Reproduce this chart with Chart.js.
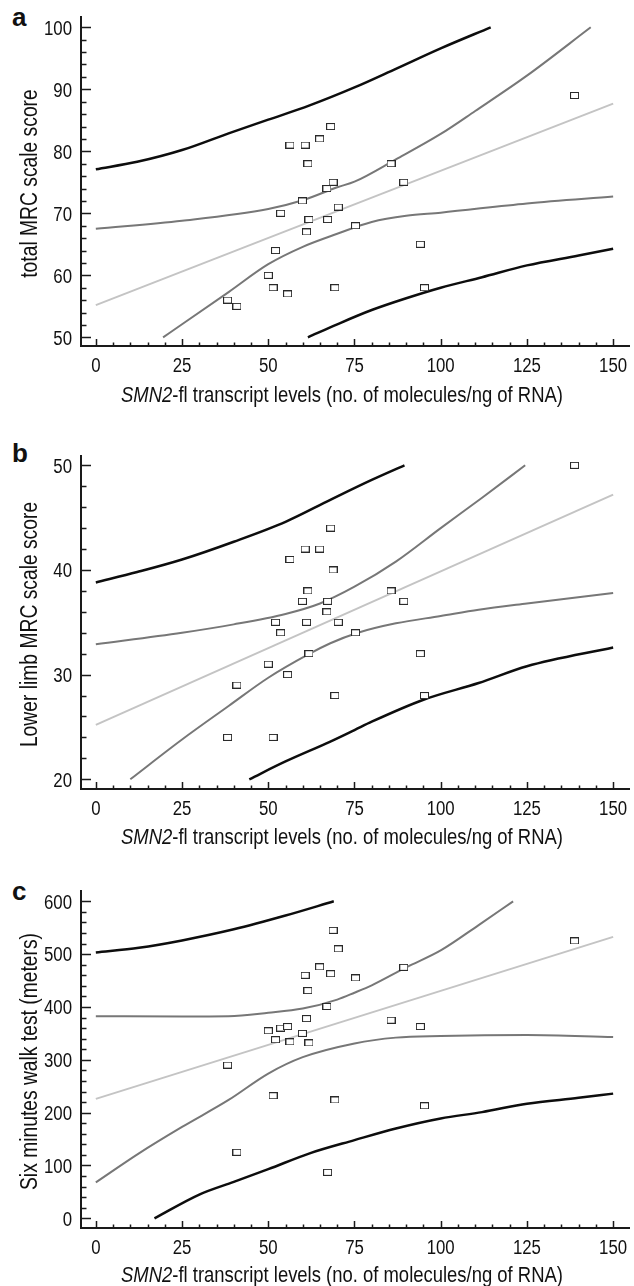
<!DOCTYPE html>
<html>
<head>
<meta charset="utf-8">
<script src="https://cdn.jsdelivr.net/npm/chart.js@4.4.1/dist/chart.umd.min.js"></script>
<style>
  body { margin: 0; background: #fff; width: 634px; height: 1286px; position: relative; overflow: hidden; }
  canvas { position: absolute; left: 0; }
  .letter { position: absolute; left: 12px; font: bold 26px "Liberation Sans", Arial, sans-serif; line-height: 1; color: #111; }
  .xtitle { position: absolute; left: 42px; width: 600px; text-align: center; font: 22.5px "Liberation Sans", Arial, sans-serif; line-height: 26px; color: #111; white-space: nowrap; transform: scaleX(0.82); transform-origin: 50% 50%; }
</style>
</head>
<body>
<div class="letter" style="top:4px">a</div>
<div class="letter" style="top:440px">b</div>
<div class="letter" style="top:878px">c</div>
<canvas id="chartA" width="634" height="420" style="top:0"></canvas>
<canvas id="chartB" width="634" height="420" style="top:420px"></canvas>
<canvas id="chartC" width="634" height="446" style="top:840px"></canvas>
<div class="xtitle" style="top:382px"><i>SMN2</i>-fl transcript levels (no. of molecules/ng of RNA)</div>
<div class="xtitle" style="top:824px"><i>SMN2</i>-fl transcript levels (no. of molecules/ng of RNA)</div>
<div class="xtitle" style="top:1262px"><i>SMN2</i>-fl transcript levels (no. of molecules/ng of RNA)</div>
<script>
// SMN2-fl transcript levels per patient (same for all panels)
var smnLevels = [38.2, 40.9, 50.0, 51.4, 52.1, 53.6, 55.6, 56.3, 59.9, 60.7, 61.1, 61.5, 61.8,
                 64.9, 67.0, 67.2, 68.1, 68.8, 69.3, 70.3, 75.3, 85.6, 89.3, 94.1, 95.3, 138.8];

// panel a: total MRC scale score
var mrcTotal = [56, 55, 60, 58, 64, 70, 57, 81, 72, 81, 67, 78, 69,
                82, 74, 69, 84, 75, 58, 71, 68, 78, 75, 65, 58, 89];
// panel b: lower limb MRC
var mrcLower = [24, 29, 31, 24, 35, 34, 30, 41, 37, 42, 35, 38, 32,
                42, 36, 37, 44, 40, 28, 35, 34, 38, 37, 32, 28, 50];
// panel c: six minutes walk test
var walkTest = [290, 125, 355, 232, 338, 360, 363, 334, 350, 460, 378, 431, 332,
                476, 401, 87, 463, 545, 224, 510, 455, 375, 475, 363, 213, 525];

// fitted lines: [x, y]
var regA = [[0, 55.2], [150, 87.7]];
var ciUpA = [[0, 67.5], [25, 68.8], [50, 70.7], [60, 72.1], [70, 74.2], [75, 75.1], [87, 78.7], [100, 82.8], [110, 86.5], [125, 92.2], [143.5, 100]];
var ciLoA = [[19.5, 50], [25, 52.1], [38.5, 57.3], [50, 61.8], [60, 64.6], [70, 66.7], [80, 68.6], [90, 69.6], [100, 70.1], [125, 71.6], [150, 72.7]];
var piUpA = [[0, 77.1], [12, 78.3], [25, 80.2], [38.5, 82.9], [50, 85.1], [62, 87.4], [75, 90.3], [87, 93.3], [100, 96.6], [114.5, 100]];
var piLoA = [[61.5, 50], [70, 52.1], [80, 54.4], [90, 56.3], [100, 58.0], [112, 59.7], [125, 61.6], [140, 63.2], [150, 64.3]];

var regB = [[0, 25.2], [150, 47.2]];
var ciUpB = [[0, 32.9], [25, 34.0], [40, 34.8], [55, 35.8], [65, 36.8], [75, 38.4], [87, 40.8], [100, 44.0], [112, 46.9], [124.5, 50]];
var ciLoB = [[10, 20], [25, 23.8], [38.5, 27.0], [50, 29.7], [62, 32.0], [68, 33.0], [76, 34.0], [87, 34.9], [100, 35.6], [111, 36.2], [125, 36.8], [150, 37.8]];
var piUpB = [[0, 38.8], [12, 39.8], [25, 41.0], [40, 42.7], [55, 44.6], [68, 46.7], [80, 48.6], [89.5, 50]];
var piLoB = [[44.5, 20], [55, 21.7], [68, 23.6], [75, 24.7], [80, 25.5], [95, 27.6], [111, 29.2], [125, 30.8], [150, 32.6]];

var regC = [[0, 226], [150, 532.6]];
var ciUpC = [[0, 382.6], [25, 382], [38.5, 382.5], [50, 389], [60, 397], [70, 414], [75, 427], [80, 441], [90, 475], [100, 507], [111, 555], [121, 600]];
var ciLoC = [[0, 68], [12.5, 123], [25, 173], [38.5, 224], [50, 274], [60, 305], [75, 331], [87, 342], [100, 345], [125, 347], [150, 343]];
var piUpC = [[0, 503], [12.5, 512], [25, 526], [40, 547], [55, 573], [69, 600]];
var piLoC = [[17, 0], [30, 45], [40, 69], [50, 93], [62, 123], [75, 148], [87, 170], [100, 189], [112, 201], [125, 217], [140, 228], [150, 236]];

// x range and ticks shared by all panels
var xMin = -4.3, xMax = 154.6, xStep = 5, xMajor = 25;

var FONT = '"Liberation Sans", Arial, sans-serif';
var NARROW = 0.82;   // the figure uses a condensed face
var AXIS = '#1a1a1a';

// small open box used as marker
var box = document.createElement('canvas');
box.width = 9; box.height = 7;
var bctx = box.getContext('2d');
bctx.fillStyle = '#fff';
bctx.fillRect(0, 0, 9, 7);
bctx.strokeStyle = '#2a2a2a';
bctx.lineWidth = 1;
bctx.strokeRect(0.5, 0.5, 8, 6);

function pairs(arr) {
    return arr.map(function (p) { return { x: p[0], y: p[1] }; });
}

function curve(arr, color, width) {
    return {
        type: 'line',
        data: pairs(arr),
        borderColor: color,
        borderWidth: width,
        pointRadius: 0,
        cubicInterpolationMode: 'monotone',
        fill: false,
        order: 2
    };
}

function narrowText(ctx, text, x, y, rot) {
    ctx.save();
    ctx.translate(x, y);
    if (rot) ctx.rotate(rot);
    ctx.scale(NARROW, 1);
    ctx.fillText(text, 0, 0);
    ctx.restore();
}

// inward tick marks, tick labels and y title
var axisDecor = {
    id: 'axisDecor',
    afterDatasetsDraw: function (chart, args, opts) {
        var ctx = chart.ctx, xs = chart.scales.x, ys = chart.scales.y;
        ctx.save();
        ctx.strokeStyle = AXIS;
        ctx.lineWidth = 1.5;
        ctx.beginPath();
        xs.ticks.forEach(function (t) {
            var px = Math.round(xs.getPixelForValue(t.value)) + 0.5;
            var len = t.value % xMajor === 0 ? 7 : 3.5;
            ctx.moveTo(px, xs.top);
            ctx.lineTo(px, xs.top - len);
        });
        ys.ticks.forEach(function (t) {
            var py = Math.round(ys.getPixelForValue(t.value)) + 0.5;
            var len = t.value % opts.yMajor === 0 ? 10 : 5.5;
            ctx.moveTo(ys.right, py);
            ctx.lineTo(ys.right + len, py);
        });
        ctx.stroke();

        ctx.fillStyle = '#111';
        ctx.font = '20.5px ' + FONT;
        ctx.textBaseline = 'alphabetic';
        ctx.textAlign = 'center';
        xs.ticks.forEach(function (t) {
            if (t.value % xMajor !== 0) return;
            narrowText(ctx, String(t.value), xs.getPixelForValue(t.value), xs.top + 25.5);
        });
        ctx.textAlign = 'right';
        ys.ticks.forEach(function (t) {
            if (t.value % opts.yMajor !== 0) return;
            narrowText(ctx, String(t.value), ys.right - 9, ys.getPixelForValue(t.value) + 7.3);
        });

        ctx.font = '23.5px ' + FONT;
        ctx.textAlign = 'center';
        ctx.textBaseline = 'middle';
        var area = chart.chartArea;
        narrowText(ctx, opts.title, 31, (area.top + area.bottom) / 2 + 2, -Math.PI / 2);
        ctx.restore();
    }
};

function makeChart(id, yValues, yTitle, yMin, yMax, yFirst, yLast, yStep, yMajor, lines, padTop, xHeight) {
    var ctx = document.getElementById(id).getContext('2d');
    var points = smnLevels.map(function (x, i) { return { x: x, y: yValues[i] }; });
    return new Chart(ctx, {
        type: 'scatter',
        data: {
            datasets: [{
                data: points,
                pointStyle: box,
                pointRadius: 4,
                order: 1
            }].concat(lines)
        },
        options: {
            responsive: false,
            animation: false,
            layout: { padding: { top: padTop, right: 2, left: 0, bottom: 0 } },
            plugins: {
                legend: { display: false },
                tooltip: { enabled: false },
                axisDecor: { yMajor: yMajor, title: yTitle }
            },
            scales: {
                x: {
                    type: 'linear',
                    min: xMin,
                    max: xMax,
                    grid: { display: false },
                    border: { display: true, color: AXIS, width: 2 },
                    afterBuildTicks: function (scale) {
                        var t = [];
                        for (var v = 0; v <= 150; v += xStep) t.push({ value: v });
                        scale.ticks = t;
                    },
                    afterFit: function (scale) { scale.height = xHeight; },
                    ticks: { display: false, autoSkip: false }
                },
                y: {
                    type: 'linear',
                    min: yMin,
                    max: yMax,
                    grid: { display: false },
                    border: { display: true, color: AXIS, width: 2 },
                    afterBuildTicks: function (scale) {
                        var t = [];
                        for (var v = yFirst; v <= yLast; v += yStep) t.push({ value: v });
                        scale.ticks = t;
                    },
                    afterFit: function (scale) { scale.width = 81; },
                    ticks: { display: false, autoSkip: false }
                }
            }
        },
        plugins: [axisDecor]
    });
}

function fitLines(reg, ciUp, ciLo, piUp, piLo) {
    return [
        curve(reg, '#c4c4c4', 2),
        curve(ciUp, '#777777', 2),
        curve(ciLo, '#777777', 2),
        curve(piUp, '#0d0d0d', 2.5),
        curve(piLo, '#0d0d0d', 2.5)
    ];
}

makeChart('chartA', mrcTotal, 'total MRC scale score', 48.6, 101.66, 50, 100, 2, 10,
          fitLines(regA, ciUpA, ciLoA, piUpA, piLoA), 17, 74);
makeChart('chartB', mrcLower, 'Lower limb MRC scale score', 19.07, 50.89, 20, 50, 2, 10,
          fitLines(regB, ciUpB, ciLoB, piUpB, piLoB), 36, 51);
makeChart('chartC', walkTest, 'Six minutes walk test (meters)', -18.3, 619.5, 0, 600, 20, 100,
          fitLines(regC, ciUpC, ciLoC, piUpC, piLoC), 51, 58);
</script>
</body>
</html>
